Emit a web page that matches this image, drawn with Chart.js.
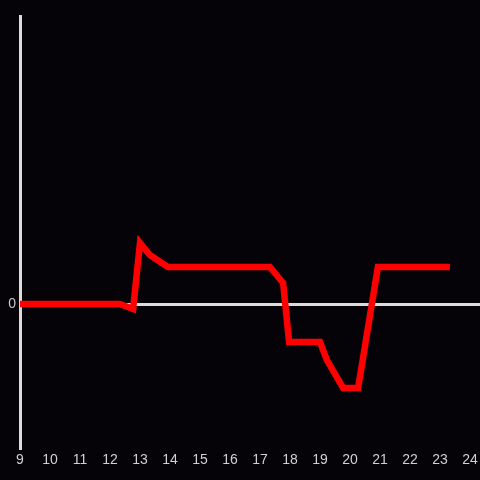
<!DOCTYPE html>
<html>
<head>
<meta charset="utf-8">
<script src="https://cdn.jsdelivr.net/npm/chart.js@4/dist/chart.umd.min.js"></script>
<style>
  html, body { margin: 0; padding: 0; background: #050308; }
</style>
</head>
<body>
<canvas id="grafico" width="480" height="480"></canvas>
<script>
// Datos
var horas = [9, 12.33, 12.77, 13.0, 13.33, 13.93, 17.33, 17.77, 17.97, 19.0, 19.23, 19.77, 20.27, 20.93, 23.33];
var valores = [0, 0, -0.035, 0.424, 0.34, 0.257, 0.257, 0.146, -0.264, -0.264, -0.389, -0.583, -0.583, 0.257, 0.257];
var etiquetasX = [9, 10, 11, 12, 13, 14, 15, 16, 17, 18, 19, 20, 21, 22, 23, 24];
var etiquetasY = [0];

var puntos = horas.map(function(h, i) { return { x: h, y: valores[i] }; });

document.addEventListener("DOMContentLoaded", function() {
    var ctx = document.getElementById('grafico').getContext('2d');
    new Chart(ctx, {
        type: 'line',
        data: {
            datasets: [{
                data: puntos,
                borderColor: '#ff0000',
                borderWidth: 6.5,
                pointRadius: 0,
                tension: 0,
                fill: false
            }]
        },
        options: {
            responsive: false,
            animation: false,
            layout: { padding: { top: 16, right: 0, left: 0, bottom: 0 } },
            plugins: { legend: { display: false }, tooltip: { enabled: false } },
            scales: {
                x: {
                    type: 'linear',
                    min: 9,
                    max: 9 + 460 / 30,
                    afterBuildTicks: function(scale) {
                        scale.ticks = etiquetasX.map(function(v) { return { value: v }; });
                    },
                    afterFit: function(scale) {
                        scale.height = 32;
                        scale.paddingLeft = 0;
                        scale.paddingRight = 0;
                    },
                    grid: { display: false, drawTicks: false },
                    border: { display: false },
                    ticks: {
                        color: '#d0d0d0',
                        font: { family: 'Liberation Sans', size: 14 },
                        padding: 4,
                        maxRotation: 0,
                        autoSkip: false
                    }
                },
                y: {
                    min: -1,
                    max: 2,
                    afterBuildTicks: function(scale) {
                        scale.ticks = etiquetasY.map(function(v) { return { value: v }; });
                    },
                    afterFit: function(scale) {
                        scale.width = 20;
                        scale.paddingTop = 0;
                        scale.paddingBottom = 0;
                    },
                    grid: { color: '#dcdcdc', lineWidth: 3, drawTicks: false },
                    border: { display: true, color: '#dcdcdc', width: 3 },
                    ticks: {
                        color: '#c8c8c8',
                        font: { family: 'Liberation Sans', size: 14 },
                        padding: 4
                    }
                }
            }
        }
    });
});
</script>
</body>
</html>
